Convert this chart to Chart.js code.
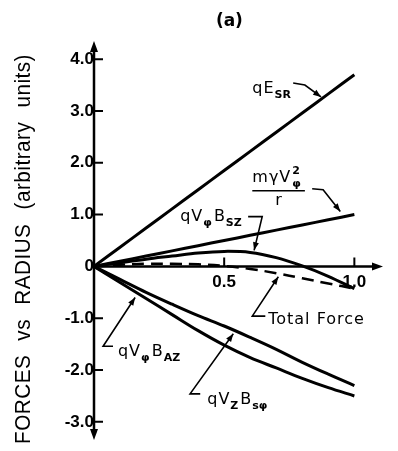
<!DOCTYPE html>
<html>
<head>
<meta charset="utf-8">
<script src="https://cdn.jsdelivr.net/npm/chart.js@4.4.1/dist/chart.umd.min.js"></script>
<style>
  html, body { margin: 0; padding: 0; background: #fff; }
  canvas { display: block; }
</style>
</head>
<body>
<canvas id="c" width="398" height="451"></canvas>
<script>
// Radius (normalised) and the force components acting on the particle
const radius     = [0, 0.1, 0.2, 0.3, 0.4, 0.5, 0.6, 0.7, 0.8, 0.9, 1.0];
const qESR       = [0, 0.37, 0.74, 1.11, 1.48, 1.85, 2.22, 2.59, 2.96, 3.33, 3.7];
const myV2r      = [0, 0.1, 0.2, 0.3, 0.4, 0.5, 0.6, 0.7, 0.8, 0.9, 1.0];
const qVphiBsz   = [0, 0.07, 0.14, 0.2, 0.26, 0.29, 0.27, 0.17, 0.01, -0.19, -0.43];
const totalForce = [0, 0.03, 0.05, 0.05, 0.04, 0.01, -0.05, -0.13, -0.23, -0.33, -0.43];
const qVzBsphi   = [0, -0.25, -0.5, -0.73, -0.95, -1.15, -1.37, -1.6, -1.85, -2.08, -2.3];
const qVphiBaz   = [0, -0.31, -0.62, -0.93, -1.24, -1.52, -1.76, -1.96, -2.16, -2.34, -2.5];

// Axis tick values
const xTickValues = [0.5, 1.0];
const yTickValues = [-3, -2, -1, 0, 1, 2, 3, 4];

const pts = ys => radius.map((r, i) => ({ x: r, y: ys[i] }));

// Curve labels with leader arrows (data units); segments: base text, sub, sup
const callouts = [
  { text: [{ t: 'qE' }, { t: 'SR', k: 'sub' }], at: [0.608, 3.35],
    path: [[0.765, 3.54], [0.81, 3.5], [0.872, 3.27]] },
  { text: [{ t: 'qV' }, { t: 'φ', k: 'sub' }, { t: 'B' }, { t: 'SZ', k: 'sub' }], at: [0.331, 0.88],
    path: [[0.592, 0.96], [0.646, 0.96], [0.615, 0.31]] },
  { text: [{ t: 'Total Force' }], at: [0.669, -1.12],
    path: [[0.658, -0.96], [0.608, -0.96], [0.708, -0.2]] },
  { text: [{ t: 'qV' }, { t: 'φ', k: 'sub' }, { t: 'B' }, { t: 'AZ', k: 'sub' }], at: [0.092, -1.73],
    path: [[0.073, -1.54], [0.035, -1.54], [0.158, -0.6]] },
  { text: [{ t: 'qV' }, { t: 'Z', k: 'sub' }, { t: 'B' }, { t: 'sφ', k: 'sub' }], at: [0.435, -2.65],
    path: [[0.408, -2.46], [0.369, -2.46], [0.535, -1.3]] }
];

const LABEL_FONT = '16px "DejaVu Sans", sans-serif';
const SMALL_FONT = 'bold 11px "DejaVu Sans", sans-serif';

function drawRich(ctx, segs, x, y) {
  let cx = x;
  ctx.textAlign = 'left';
  ctx.textBaseline = 'alphabetic';
  for (const s of segs) {
    if (s.k === 'sub' || s.k === 'sup') {
      ctx.font = SMALL_FONT;
      ctx.letterSpacing = '0px';
      ctx.fillText(s.t, cx, y + (s.k === 'sub' ? 5 : -9));
      if (!s.over) cx += ctx.measureText(s.t).width + 2;
    } else {
      ctx.font = LABEL_FONT;
      ctx.letterSpacing = '1px';
      ctx.fillText(s.t, cx, y);
      cx += ctx.measureText(s.t).width;
    }
  }
  ctx.letterSpacing = '0px';
  return cx;
}

function arrowHead(ctx, tx, ty, fx, fy, len, hw) {
  const dx = tx - fx, dy = ty - fy;
  const d = Math.hypot(dx, dy) || 1;
  const ux = dx / d, uy = dy / d;
  const bx = tx - ux * len, by = ty - uy * len;
  ctx.beginPath();
  ctx.moveTo(tx, ty);
  ctx.lineTo(bx - uy * hw, by + ux * hw);
  ctx.lineTo(bx + uy * hw, by - ux * hw);
  ctx.closePath();
  ctx.fill();
}

const decor = {
  id: 'decor',
  afterDatasetsDraw(chart) {
    const ctx = chart.ctx;
    const xs = chart.scales.x, ys = chart.scales.y;
    const X = v => xs.getPixelForValue(v);
    const Y = v => ys.getPixelForValue(v);
    const x0 = X(0), y0 = Y(0);
    ctx.save();
    ctx.fillStyle = '#000';
    ctx.strokeStyle = '#000';
    ctx.lineCap = 'butt';

    // axes with arrow heads
    ctx.lineWidth = 2.5;
    ctx.beginPath();
    ctx.moveTo(x0, ys.top + 8); ctx.lineTo(x0, ys.bottom - 8);
    ctx.moveTo(x0, y0); ctx.lineTo(xs.right - 8, y0);
    ctx.stroke();
    arrowHead(ctx, x0, ys.top, x0, ys.top + 10, 11, 4);
    arrowHead(ctx, x0, ys.bottom, x0, ys.bottom - 10, 11, 4);
    arrowHead(ctx, xs.right, y0, xs.right - 10, y0, 11, 4);

    // tick marks: inward on y, upward on x
    ctx.lineWidth = 2;
    ctx.beginPath();
    for (const v of yTickValues) {
      if (v === 0) continue;
      ctx.moveTo(x0, Y(v)); ctx.lineTo(x0 + 9, Y(v));
    }
    for (const v of xTickValues) {
      ctx.moveTo(X(v), y0); ctx.lineTo(X(v), y0 - 9);
    }
    ctx.stroke();

    // panel tag
    ctx.font = 'bold 17px "DejaVu Sans", sans-serif';
    ctx.textAlign = 'center';
    ctx.textBaseline = 'alphabetic';
    ctx.fillText('(a)', X(0.52), Y(4.63));

    // vertical axis title
    ctx.save();
    ctx.translate(24, 249);
    ctx.rotate(-Math.PI / 2);
    ctx.font = '21px "Liberation Sans", Arial, sans-serif';
    ctx.wordSpacing = '8px';
    ctx.letterSpacing = '0.5px';
    const title = 'FORCES vs RADIUS (arbitrary units)';
    const w = ctx.measureText(title).width;
    ctx.scale(390 / w, 1.08);
    ctx.textAlign = 'center';
    ctx.textBaseline = 'middle';
    ctx.fillText(title, 0, 0);
    ctx.restore();

    // fraction label  m γ V²φ / r
    ctx.lineWidth = 1.6;
    const fx = X(0.608), fy = Y(1.62);
    let cx = drawRich(ctx, [{ t: 'mγV' }], fx, fy);
    ctx.font = SMALL_FONT;
    ctx.fillText('2', cx + 1, fy - 8);
    ctx.fillText('φ', cx + 1, fy + 5);
    ctx.beginPath();
    ctx.moveTo(fx, Y(1.46)); ctx.lineTo(X(0.81), Y(1.46));
    ctx.stroke();
    ctx.font = LABEL_FONT;
    ctx.textAlign = 'center';
    ctx.fillText('r', (fx + X(0.81)) / 2, Y(1.19));
    // leader for the fraction label
    const fp = [[0.838, 1.5], [0.88, 1.48], [0.946, 1.06]];
    ctx.beginPath();
    fp.forEach((p, i) => i ? ctx.lineTo(X(p[0]), Y(p[1])) : ctx.moveTo(X(p[0]), Y(p[1])));
    ctx.stroke();
    arrowHead(ctx, X(fp[2][0]), Y(fp[2][1]), X(fp[1][0]), Y(fp[1][1]), 8, 3);

    // other callouts
    for (const c of callouts) {
      drawRich(ctx, c.text, X(c.at[0]), Y(c.at[1]));
      ctx.lineWidth = 1.6;
      ctx.beginPath();
      c.path.forEach((p, i) => i ? ctx.lineTo(X(p[0]), Y(p[1])) : ctx.moveTo(X(p[0]), Y(p[1])));
      ctx.stroke();
      const n = c.path.length;
      arrowHead(ctx, X(c.path[n - 1][0]), Y(c.path[n - 1][1]),
                X(c.path[n - 2][0]), Y(c.path[n - 2][1]), 8, 3);
    }
    ctx.restore();
  }
};

const solid = (label, ys) => ({
  label, data: pts(ys), borderColor: '#000', borderWidth: 3,
  pointRadius: 0, tension: 0.35, fill: false
});

const tickFont = { family: '"Liberation Sans", Arial, sans-serif', size: 17, weight: 'bold' };

new Chart(document.getElementById('c'), {
  type: 'line',
  data: {
    datasets: [
      solid('qE_SR', qESR),
      solid('mγV²φ/r', myV2r),
      solid('qVφB_SZ', qVphiBsz),
      Object.assign(solid('Total Force', totalForce), { borderDash: [12, 7], borderWidth: 2.5 }),
      solid('qV_zB_sφ', qVzBsphi),
      solid('qVφB_AZ', qVphiBaz)
    ]
  },
  options: {
    responsive: false,
    animation: false,
    devicePixelRatio: 1,
    layout: { padding: { left: 94, right: 15, top: 41, bottom: 11 } },
    plugins: { legend: { display: false }, tooltip: { enabled: false }, title: { display: false } },
    scales: {
      x: {
        type: 'linear', min: 0, max: 1.11, position: { y: 0 },
        afterBuildTicks: s => { s.ticks = xTickValues.map(v => ({ value: v })); },
        grid: { display: false, drawTicks: true, tickLength: 6 },
        border: { display: false },
        ticks: { padding: 0, color: '#000', font: tickFont, callback: v => Number(v).toFixed(1) }
      },
      y: {
        type: 'linear', min: -3.35, max: 4.35, position: { x: 0 },
        afterBuildTicks: s => { s.ticks = yTickValues.map(v => ({ value: v })); },
        grid: { display: false, drawTicks: true, tickLength: 7 },
        border: { display: false },
        ticks: { padding: 0, color: '#000', font: tickFont,
                 callback: v => (v === 0 ? '0' : Number(v).toFixed(1)) }
      }
    }
  },
  plugins: [decor]
});
</script>
</body>
</html>
